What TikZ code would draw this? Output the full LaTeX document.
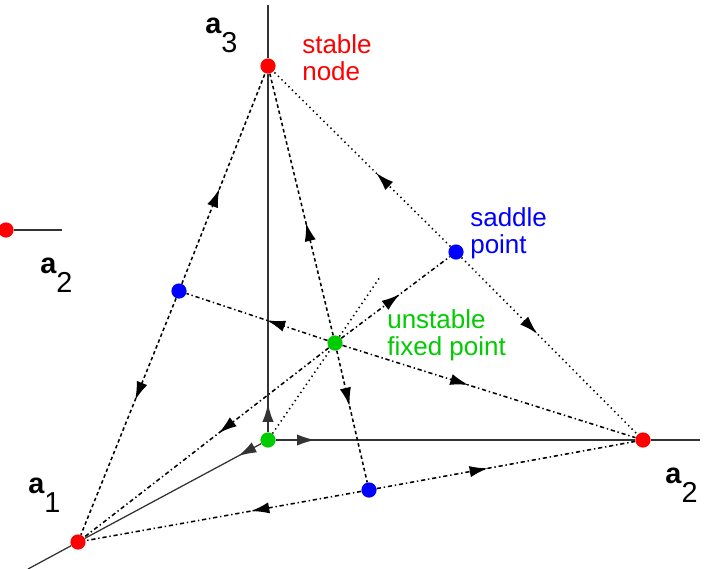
\documentclass[tikz,border=0pt]{standalone}
\usepackage{fontspec}
\setmainfont{Liberation Sans}
\usepackage{tikz}
\usetikzlibrary{arrows.meta, decorations.markings}
\definecolor{stabred}{HTML}{FF0000}
\definecolor{saddleblue}{HTML}{0000FF}
\definecolor{unstgreen}{HTML}{00CC00}
\definecolor{axisgray}{HTML}{333333}
\newcommand{\axlab}[1]{\textbf{a}\raisebox{-0.68em}{#1}}

\begin{document}
\begin{tikzpicture}[
      x=0.025cm, y=-0.025cm,
      dot/.style={circle, inner sep=0pt, minimum size=0.38cm, draw=none},
      axis/.style={draw=axisgray, line width=1.5pt},
      diag/.style={draw=axisgray, line width=0.9pt},
      traj/.style={line width=1.1pt, dash pattern=on 3pt off 2pt on 1pt off 2pt},
      edgedash/.style={line width=1.1pt, dash pattern=on 2.5pt off 2pt},
      edgedot/.style={line width=1.1pt, dash pattern=on 1pt off 2.5pt},
      flow/.style={postaction={decorate},
                   decoration={markings, mark=at position #1 with {\arrow{Latex[length=13pt,width=8pt]}}}},
      lbl/.style={font=\fontsize{20.5}{20}\selectfont, inner sep=0pt, anchor=base west},
      info/.style={font=\fontsize{18.5}{19.2}\selectfont, inner sep=0pt, anchor=north west, align=left},
    ]
    \useasboundingbox (0,0) rectangle (709,568);

    % fixed points
    \node[dot, fill=stabred]    (n3)   at (268,66)  {};
    \node[dot, fill=stabred]    (n2)   at (643,440) {};
    \node[dot, fill=stabred]    (n1)   at (78,542)  {};
    \node[dot, fill=unstgreen]  (org)  at (268,440) {};
    \node[dot, fill=unstgreen]  (ctr)  at (335,343) {};
    \node[dot, fill=saddleblue] (s13)  at (179,291) {};
    \node[dot, fill=saddleblue] (s23)  at (456,252) {};
    \node[dot, fill=saddleblue] (s12)  at (369,490) {};
    \node[dot, fill=stabred]    (lone) at (6,230)   {};
    \coordinate (top)  at (268,5);
    \coordinate (xend) at (700,440);
    \coordinate (dend) at (28,569);
    \coordinate (lend) at (62,230);
    \coordinate (cext) at (380,277);

    % labels
    \node[lbl] (l3)  at (205,33)  {\axlab{3}};
    \node[lbl] (l1)  at (28,493)  {\axlab{1}};
    \node[lbl] (l2)  at (665,483) {\axlab{2}};
    \node[lbl] (l2b) at (40,273)  {\axlab{2}};
    \node[info, text=stabred]    (stxt) at (302,34)  {stable\\node};
    \node[info, text=saddleblue] (sdtxt) at (470,207) {saddle\\point};
    \node[info, text=unstgreen]  (uftxt) at (387,309) {unstable\\fixed point};

    % axes
    \draw[axis, flow=0.08] (org) -- (n3);
    \draw[axis] (n3) -- (top);
    \draw[axis, flow=0.11] (org) -- (n2);
    \draw[axis] (n2) -- (xend);
    \draw[diag, flow=0.13] (org) -- (n1);
    \draw[diag] (n1) -- (dend);
    \draw[axis] (lone) -- (lend);

    % edges of the triangle
    \draw[edgedash, flow=0.45] (s13) -- (n3);
    \draw[edgedash, flow=0.43] (s13) -- (n1);
    \draw[edgedot, flow=0.42] (s23) -- (n3);
    \draw[edgedot, flow=0.43] (s23) -- (n2);
    \draw[traj, flow=0.40] (s12) -- (n1);
    \draw[traj, flow=0.43] (s12) -- (n2);

    % trajectories out of the interior point
    \draw[edgedash, flow=0.43] (ctr) -- (n3);
    \draw[edgedash, flow=0.42] (ctr) -- (s12);
    \draw[traj, flow=0.43] (ctr) -- (s13);
    \draw[traj, flow=0.43] (ctr) -- (n2);
    \draw[traj, flow=0.54] (ctr) -- (s23);
    \draw[traj, flow=0.45] (ctr) -- (n1);
    \draw[edgedot] (org) -- (ctr);
    \draw[edgedot] (ctr) -- (cext);
  \end{tikzpicture}
\end{document}
